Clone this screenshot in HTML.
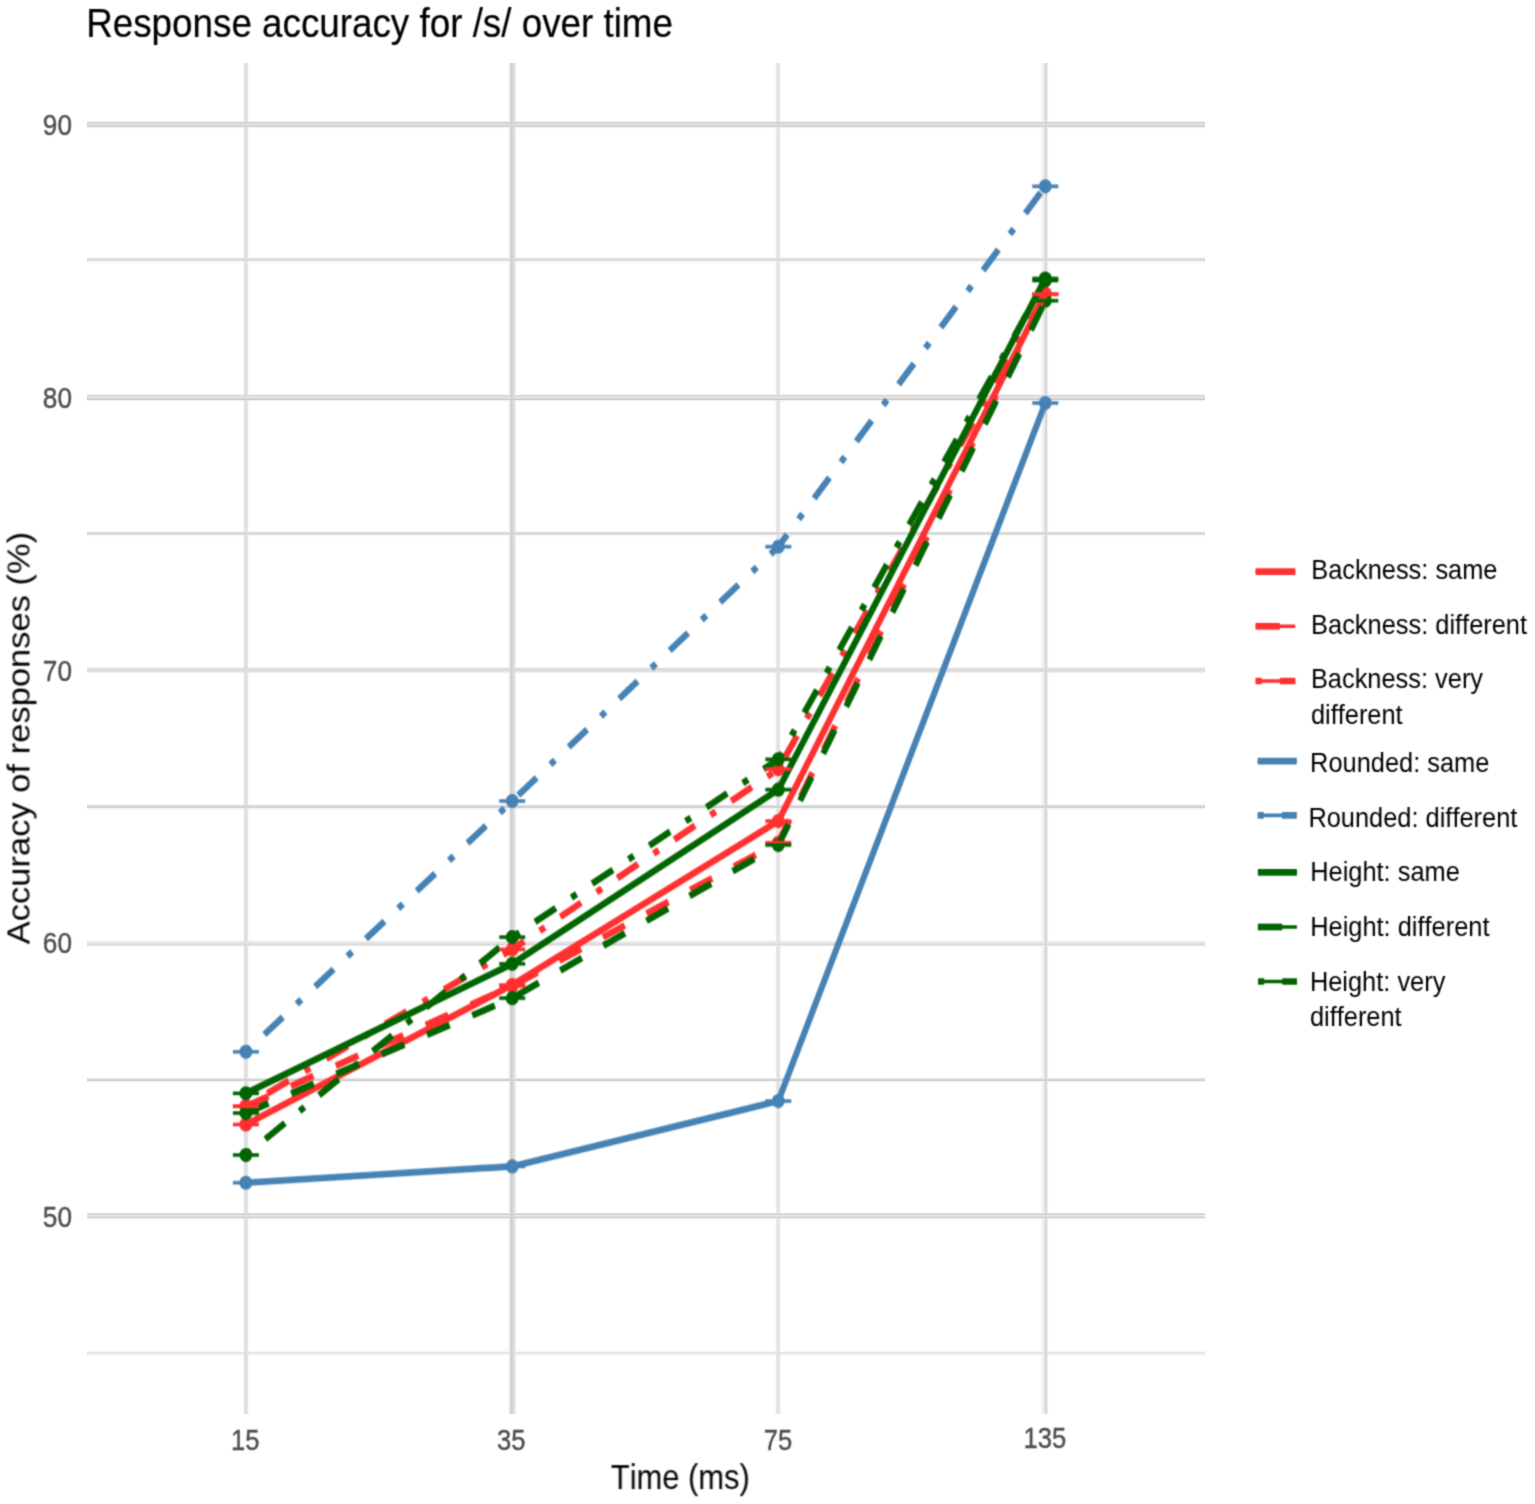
<!DOCTYPE html>
<html><head><meta charset="utf-8"><title>Response accuracy for /s/ over time</title>
<style>
html,body{margin:0;padding:0;background:#fff;}
svg{display:block;}
text{font-family:"Liberation Sans",Arial,Helvetica,sans-serif;font-kerning:none;}
</style></head>
<body>
<svg width="1535" height="1504" viewBox="0 0 1535 1367.273" preserveAspectRatio="none">
<defs><filter id="soft" filterUnits="userSpaceOnUse" x="0" y="0" width="1535" height="1367.273" color-interpolation-filters="sRGB"><feConvolveMatrix order="3" kernelMatrix="0.0400 0.1200 0.0400 0.1200 0.3600 0.1200 0.0400 0.1200 0.0400" edgeMode="duplicate"/></filter></defs>
<rect x="0" y="0" width="1535" height="1367.273" fill="#fff"/>
<g shape-rendering="crispEdges"><rect x="86.5" y="110.0000" width="1118.1" height="0.9091" fill="#f2f2f2"/><rect x="86.5" y="110.9091" width="1118.1" height="0.9091" fill="#d2d2d2"/><rect x="86.5" y="111.8182" width="1118.1" height="0.9091" fill="#d8d8d8"/><rect x="86.5" y="112.7273" width="1118.1" height="0.9091" fill="#e3e3e3"/><rect x="86.5" y="113.6364" width="1118.1" height="0.9091" fill="#d4d4d4"/><rect x="86.5" y="114.5455" width="1118.1" height="0.9091" fill="#d6d6d6"/><rect x="86.5" y="115.4545" width="1118.1" height="0.9091" fill="#efefef"/><rect x="86.5" y="116.3636" width="1118.1" height="0.9091" fill="#fbfbfb"/><rect x="86.5" y="233.6364" width="1118.1" height="0.9091" fill="#f6f6f6"/><rect x="86.5" y="234.5455" width="1118.1" height="0.9091" fill="#e6e6e6"/><rect x="86.5" y="235.4545" width="1118.1" height="0.9091" fill="#d6d6d6"/><rect x="86.5" y="236.3636" width="1118.1" height="0.9091" fill="#e0e0e0"/><rect x="86.5" y="237.2727" width="1118.1" height="0.9091" fill="#f5f5f5"/><rect x="86.5" y="238.1818" width="1118.1" height="0.9091" fill="#f8f8f8"/><rect x="86.5" y="239.0909" width="1118.1" height="0.9091" fill="#fcfcfc"/><rect x="86.5" y="358.1818" width="1118.1" height="0.9091" fill="#f2f2f2"/><rect x="86.5" y="359.0909" width="1118.1" height="0.9091" fill="#dcdcdc"/><rect x="86.5" y="360.0000" width="1118.1" height="0.9091" fill="#dadada"/><rect x="86.5" y="360.9091" width="1118.1" height="0.9091" fill="#e9e9e9"/><rect x="86.5" y="361.8182" width="1118.1" height="0.9091" fill="#d4d4d4"/><rect x="86.5" y="362.7273" width="1118.1" height="0.9091" fill="#cecece"/><rect x="86.5" y="363.6364" width="1118.1" height="0.9091" fill="#efefef"/><rect x="86.5" y="364.5455" width="1118.1" height="0.9091" fill="#fcfcfc"/><rect x="86.5" y="482.7273" width="1118.1" height="0.9091" fill="#f6f6f6"/><rect x="86.5" y="483.6364" width="1118.1" height="0.9091" fill="#e2e2e2"/><rect x="86.5" y="484.5455" width="1118.1" height="0.9091" fill="#d0d0d0"/><rect x="86.5" y="485.4545" width="1118.1" height="0.9091" fill="#e6e6e6"/><rect x="86.5" y="486.3636" width="1118.1" height="0.9091" fill="#f2f2f2"/><rect x="86.5" y="487.2727" width="1118.1" height="0.9091" fill="#fafafa"/><rect x="86.5" y="606.3636" width="1118.1" height="0.9091" fill="#f3f3f3"/><rect x="86.5" y="607.2727" width="1118.1" height="0.9091" fill="#e0e0e0"/><rect x="86.5" y="608.1818" width="1118.1" height="0.9091" fill="#dcdcdc"/><rect x="86.5" y="609.0909" width="1118.1" height="0.9091" fill="#dfdfdf"/><rect x="86.5" y="610.0000" width="1118.1" height="0.9091" fill="#e2e2e2"/><rect x="86.5" y="610.9091" width="1118.1" height="0.9091" fill="#efefef"/><rect x="86.5" y="611.8182" width="1118.1" height="0.9091" fill="#fbfbfb"/><rect x="86.5" y="730.9091" width="1118.1" height="0.9091" fill="#f6f6f6"/><rect x="86.5" y="731.8182" width="1118.1" height="0.9091" fill="#e2e2e2"/><rect x="86.5" y="732.7273" width="1118.1" height="0.9091" fill="#d2d2d2"/><rect x="86.5" y="733.6364" width="1118.1" height="0.9091" fill="#d5d5d5"/><rect x="86.5" y="734.5455" width="1118.1" height="0.9091" fill="#f0f0f0"/><rect x="86.5" y="735.4545" width="1118.1" height="0.9091" fill="#f8f8f8"/><rect x="86.5" y="854.5455" width="1118.1" height="0.9091" fill="#fbfbfb"/><rect x="86.5" y="855.4545" width="1118.1" height="0.9091" fill="#f0f0f0"/><rect x="86.5" y="856.3636" width="1118.1" height="0.9091" fill="#e5e5e5"/><rect x="86.5" y="857.2727" width="1118.1" height="0.9091" fill="#e1e1e1"/><rect x="86.5" y="858.1818" width="1118.1" height="0.9091" fill="#dadada"/><rect x="86.5" y="859.0909" width="1118.1" height="0.9091" fill="#eaeaea"/><rect x="86.5" y="860.0000" width="1118.1" height="0.9091" fill="#f8f8f8"/><rect x="86.5" y="979.0909" width="1118.1" height="0.9091" fill="#f8f8f8"/><rect x="86.5" y="980.0000" width="1118.1" height="0.9091" fill="#e9e9e9"/><rect x="86.5" y="980.9091" width="1118.1" height="0.9091" fill="#d5d5d5"/><rect x="86.5" y="981.8182" width="1118.1" height="0.9091" fill="#d3d3d3"/><rect x="86.5" y="982.7273" width="1118.1" height="0.9091" fill="#f2f2f2"/><rect x="86.5" y="983.6364" width="1118.1" height="0.9091" fill="#fcfcfc"/><rect x="86.5" y="1101.8182" width="1118.1" height="0.9091" fill="#fcfcfc"/><rect x="86.5" y="1102.7273" width="1118.1" height="0.9091" fill="#e2e2e2"/><rect x="86.5" y="1103.6364" width="1118.1" height="0.9091" fill="#cfcfcf"/><rect x="86.5" y="1104.5455" width="1118.1" height="0.9091" fill="#e8e8e8"/><rect x="86.5" y="1105.4545" width="1118.1" height="0.9091" fill="#dcdcdc"/><rect x="86.5" y="1106.3636" width="1118.1" height="0.9091" fill="#d4d4d4"/><rect x="86.5" y="1107.2727" width="1118.1" height="0.9091" fill="#eeeeee"/><rect x="86.5" y="1108.1818" width="1118.1" height="0.9091" fill="#fbfbfb"/><rect x="86.5" y="1227.2727" width="1118.1" height="0.9091" fill="#fcfcfc"/><rect x="86.5" y="1228.1818" width="1118.1" height="0.9091" fill="#f6f6f6"/><rect x="86.5" y="1229.0909" width="1118.1" height="0.9091" fill="#e6e6e6"/><rect x="86.5" y="1230.0000" width="1118.1" height="0.9091" fill="#e4e4e4"/><rect x="86.5" y="1230.9091" width="1118.1" height="0.9091" fill="#f5f5f5"/><rect x="86.5" y="1231.8182" width="1118.1" height="0.9091" fill="#fcfcfc"/><g style="mix-blend-mode:darken"><rect x="243" y="56.909" width="1" height="1228.182" fill="#f8f8f8"/><rect x="244" y="56.909" width="1" height="1228.182" fill="#e0e0e0"/><rect x="245" y="56.909" width="1" height="1228.182" fill="#e0e0e0"/><rect x="246" y="56.909" width="1" height="1228.182" fill="#e2e2e2"/><rect x="247" y="56.909" width="1" height="1228.182" fill="#e5e5e5"/><rect x="248" y="56.909" width="1" height="1228.182" fill="#f8f8f8"/><rect x="249" y="56.909" width="1" height="1228.182" fill="#fcfcfc"/><rect x="508" y="56.909" width="1" height="1228.182" fill="#f8f8f8"/><rect x="509" y="56.909" width="1" height="1228.182" fill="#f0f0f0"/><rect x="510" y="56.909" width="1" height="1228.182" fill="#d2d2d2"/><rect x="511" y="56.909" width="1" height="1228.182" fill="#d4d4d4"/><rect x="512" y="56.909" width="1" height="1228.182" fill="#dadada"/><rect x="513" y="56.909" width="1" height="1228.182" fill="#d5d5d5"/><rect x="514" y="56.909" width="1" height="1228.182" fill="#e6e6e6"/><rect x="515" y="56.909" width="1" height="1228.182" fill="#f0f0f0"/><rect x="516" y="56.909" width="1" height="1228.182" fill="#fcfcfc"/><rect x="775" y="56.909" width="1" height="1228.182" fill="#f8f8f8"/><rect x="776" y="56.909" width="1" height="1228.182" fill="#ededed"/><rect x="777" y="56.909" width="1" height="1228.182" fill="#dedede"/><rect x="778" y="56.909" width="1" height="1228.182" fill="#e6e6e6"/><rect x="779" y="56.909" width="1" height="1228.182" fill="#e8e8e8"/><rect x="780" y="56.909" width="1" height="1228.182" fill="#f6f6f6"/><rect x="781" y="56.909" width="1" height="1228.182" fill="#fcfcfc"/><rect x="1041" y="56.909" width="1" height="1228.182" fill="#f8f8f8"/><rect x="1042" y="56.909" width="1" height="1228.182" fill="#f4f4f4"/><rect x="1043" y="56.909" width="1" height="1228.182" fill="#ececec"/><rect x="1044" y="56.909" width="1" height="1228.182" fill="#e6e6e6"/><rect x="1045" y="56.909" width="1" height="1228.182" fill="#dadada"/><rect x="1046" y="56.909" width="1" height="1228.182" fill="#d7d7d7"/><rect x="1047" y="56.909" width="1" height="1228.182" fill="#f0f0f0"/><rect x="1048" y="56.909" width="1" height="1228.182" fill="#fcfcfc"/></g></g>
<g filter="url(#soft)">
<circle cx="245.9" cy="1022.273" r="6.45" fill="#ff3030"/>
<circle cx="512.2" cy="895.455" r="6.45" fill="#ff3030"/>
<circle cx="778.3" cy="746.364" r="6.45" fill="#ff3030"/>
<circle cx="1045.3" cy="267.273" r="6.45" fill="#ff3030"/>
<circle cx="245.9" cy="1005.818" r="6.45" fill="#ff3030"/>
<circle cx="512.2" cy="896.364" r="6.45" fill="#ff3030"/>
<circle cx="778.3" cy="766.091" r="6.45" fill="#ff3030"/>
<circle cx="1045.3" cy="267.273" r="6.45" fill="#ff3030"/>
<circle cx="245.9" cy="1005.455" r="6.45" fill="#ff3030"/>
<circle cx="512.2" cy="863.091" r="6.45" fill="#ff3030"/>
<circle cx="778.3" cy="699.182" r="6.45" fill="#ff3030"/>
<circle cx="1045.3" cy="267.273" r="6.45" fill="#ff3030"/>
<circle cx="245.9" cy="1075.182" r="6.45" fill="#4682b4"/>
<circle cx="512.2" cy="1060.364" r="6.45" fill="#4682b4"/>
<circle cx="778.3" cy="1000.909" r="6.45" fill="#4682b4"/>
<circle cx="1045.3" cy="366.364" r="6.45" fill="#4682b4"/>
<circle cx="245.9" cy="956.182" r="6.45" fill="#4682b4"/>
<circle cx="512.2" cy="728.182" r="6.45" fill="#4682b4"/>
<circle cx="778.3" cy="497.0" r="6.45" fill="#4682b4"/>
<circle cx="1045.3" cy="169.364" r="6.45" fill="#4682b4"/>
<circle cx="245.9" cy="993.909" r="6.45" fill="#006400"/>
<circle cx="512.2" cy="876.182" r="6.45" fill="#006400"/>
<circle cx="778.3" cy="717.818" r="6.45" fill="#006400"/>
<circle cx="1045.3" cy="253.182" r="6.45" fill="#006400"/>
<circle cx="245.9" cy="1011.818" r="6.45" fill="#006400"/>
<circle cx="512.2" cy="907.364" r="6.45" fill="#006400"/>
<circle cx="778.3" cy="768.182" r="6.45" fill="#006400"/>
<circle cx="1045.3" cy="273.364" r="6.45" fill="#006400"/>
<circle cx="245.9" cy="1050.0" r="6.45" fill="#006400"/>
<circle cx="512.2" cy="851.909" r="6.45" fill="#006400"/>
<circle cx="778.3" cy="690.273" r="6.45" fill="#006400"/>
<circle cx="1045.3" cy="255.0" r="6.45" fill="#006400"/>
<polyline points="245.9,1022.273 512.2,895.455 778.3,746.364 1045.3,267.273" fill="none" stroke="#ff3030" stroke-width="6.13" stroke-linejoin="round" stroke-linecap="butt"/>
<polyline points="245.9,1005.818 512.2,896.364 778.3,766.091 1045.3,267.273" fill="none" stroke="#ff3030" stroke-width="6.13" stroke-linejoin="round" stroke-linecap="butt" stroke-dasharray="24.312 24.312"/>
<polyline points="245.9,1005.455 512.2,863.091 778.3,699.182 1045.3,267.273" fill="none" stroke="#ff3030" stroke-width="6.13" stroke-linejoin="round" stroke-linecap="butt" stroke-dasharray="6.078 18.234 24.312 18.234"/>
<polyline points="245.9,1075.182 512.2,1060.364 778.3,1000.909 1045.3,366.364" fill="none" stroke="#4682b4" stroke-width="6.13" stroke-linejoin="round" stroke-linecap="butt"/>
<polyline points="245.9,956.182 512.2,728.182 778.3,497.0 1045.3,169.364" fill="none" stroke="#4682b4" stroke-width="6.13" stroke-linejoin="round" stroke-linecap="butt" stroke-dasharray="6.078 18.234 24.312 18.234"/>
<polyline points="245.9,993.909 512.2,876.182 778.3,717.818 1045.3,253.182" fill="none" stroke="#006400" stroke-width="6.13" stroke-linejoin="round" stroke-linecap="butt"/>
<polyline points="245.9,1011.818 512.2,907.364 778.3,768.182 1045.3,273.364" fill="none" stroke="#006400" stroke-width="6.13" stroke-linejoin="round" stroke-linecap="butt" stroke-dasharray="24.312 24.312"/>
<polyline points="245.9,1050.0 512.2,851.909 778.3,690.273 1045.3,255.0" fill="none" stroke="#006400" stroke-width="6.13" stroke-linejoin="round" stroke-linecap="butt" stroke-dasharray="6.078 18.234 24.312 18.234"/>
<line x1="232.9" x2="258.9" y1="1022.273" y2="1022.273" stroke="#ff3030" stroke-width="3.3"/>
<line x1="499.20000000000005" x2="525.2" y1="895.455" y2="895.455" stroke="#ff3030" stroke-width="3.3"/>
<line x1="765.3" x2="791.3" y1="746.364" y2="746.364" stroke="#ff3030" stroke-width="3.3"/>
<line x1="1032.3" x2="1058.3" y1="267.273" y2="267.273" stroke="#ff3030" stroke-width="3.3"/>
<line x1="232.9" x2="258.9" y1="1005.818" y2="1005.818" stroke="#ff3030" stroke-width="3.3"/>
<line x1="499.20000000000005" x2="525.2" y1="896.364" y2="896.364" stroke="#ff3030" stroke-width="3.3"/>
<line x1="765.3" x2="791.3" y1="766.091" y2="766.091" stroke="#ff3030" stroke-width="3.3"/>
<line x1="1032.3" x2="1058.3" y1="267.273" y2="267.273" stroke="#ff3030" stroke-width="3.3"/>
<line x1="232.9" x2="258.9" y1="1005.455" y2="1005.455" stroke="#ff3030" stroke-width="3.3"/>
<line x1="499.20000000000005" x2="525.2" y1="863.091" y2="863.091" stroke="#ff3030" stroke-width="3.3"/>
<line x1="765.3" x2="791.3" y1="699.182" y2="699.182" stroke="#ff3030" stroke-width="3.3"/>
<line x1="1032.3" x2="1058.3" y1="267.273" y2="267.273" stroke="#ff3030" stroke-width="3.3"/>
<line x1="232.9" x2="258.9" y1="1075.182" y2="1075.182" stroke="#4682b4" stroke-width="3.3"/>
<line x1="499.20000000000005" x2="525.2" y1="1060.364" y2="1060.364" stroke="#4682b4" stroke-width="3.3"/>
<line x1="765.3" x2="791.3" y1="1000.909" y2="1000.909" stroke="#4682b4" stroke-width="3.3"/>
<line x1="1032.3" x2="1058.3" y1="366.364" y2="366.364" stroke="#4682b4" stroke-width="3.3"/>
<line x1="232.9" x2="258.9" y1="956.182" y2="956.182" stroke="#4682b4" stroke-width="3.3"/>
<line x1="499.20000000000005" x2="525.2" y1="728.182" y2="728.182" stroke="#4682b4" stroke-width="3.3"/>
<line x1="765.3" x2="791.3" y1="497.0" y2="497.0" stroke="#4682b4" stroke-width="3.3"/>
<line x1="1032.3" x2="1058.3" y1="169.364" y2="169.364" stroke="#4682b4" stroke-width="3.3"/>
<line x1="232.9" x2="258.9" y1="993.909" y2="993.909" stroke="#006400" stroke-width="3.3"/>
<line x1="499.20000000000005" x2="525.2" y1="876.182" y2="876.182" stroke="#006400" stroke-width="3.3"/>
<line x1="765.3" x2="791.3" y1="717.818" y2="717.818" stroke="#006400" stroke-width="3.3"/>
<line x1="1032.3" x2="1058.3" y1="253.182" y2="253.182" stroke="#006400" stroke-width="3.3"/>
<line x1="232.9" x2="258.9" y1="1011.818" y2="1011.818" stroke="#006400" stroke-width="3.3"/>
<line x1="499.20000000000005" x2="525.2" y1="907.364" y2="907.364" stroke="#006400" stroke-width="3.3"/>
<line x1="765.3" x2="791.3" y1="768.182" y2="768.182" stroke="#006400" stroke-width="3.3"/>
<line x1="1032.3" x2="1058.3" y1="273.364" y2="273.364" stroke="#006400" stroke-width="3.3"/>
<line x1="232.9" x2="258.9" y1="1050.0" y2="1050.0" stroke="#006400" stroke-width="3.3"/>
<line x1="499.20000000000005" x2="525.2" y1="851.909" y2="851.909" stroke="#006400" stroke-width="3.3"/>
<line x1="765.3" x2="791.3" y1="690.273" y2="690.273" stroke="#006400" stroke-width="3.3"/>
<line x1="1032.3" x2="1058.3" y1="255.0" y2="255.0" stroke="#006400" stroke-width="3.3"/>
<text transform="translate(86.2,33.364) scale(1,1.02)" font-size="36.8" fill="#000" stroke="#000" stroke-width="0.2" text-anchor="start">Response accuracy for /s/ over time</text>
<text transform="translate(72.0,123.0) scale(1,1.04)" font-size="26.2" fill="#4d4d4d" stroke="#4d4d4d" stroke-width="0.35" text-anchor="end">90</text>
<text transform="translate(72.0,371.182) scale(1,1.04)" font-size="26.2" fill="#4d4d4d" stroke="#4d4d4d" stroke-width="0.35" text-anchor="end">80</text>
<text transform="translate(72.0,618.818) scale(1,1.04)" font-size="26.2" fill="#4d4d4d" stroke="#4d4d4d" stroke-width="0.35" text-anchor="end">70</text>
<text transform="translate(72.0,866.818) scale(1,1.04)" font-size="26.2" fill="#4d4d4d" stroke="#4d4d4d" stroke-width="0.35" text-anchor="end">60</text>
<text transform="translate(72.0,1115.545) scale(1,1.04)" font-size="26.2" fill="#4d4d4d" stroke="#4d4d4d" stroke-width="0.35" text-anchor="end">50</text>
<text transform="translate(245.3,1318.091) scale(1,1.04)" font-size="25.6" fill="#4d4d4d" stroke="#4d4d4d" stroke-width="0.35" text-anchor="middle">15</text>
<text transform="translate(511.20000000000005,1318.455) scale(1,1.04)" font-size="25.6" fill="#4d4d4d" stroke="#4d4d4d" stroke-width="0.35" text-anchor="middle">35</text>
<text transform="translate(777.9,1318.182) scale(1,1.04)" font-size="25.6" fill="#4d4d4d" stroke="#4d4d4d" stroke-width="0.35" text-anchor="middle">75</text>
<text transform="translate(1044.8999999999999,1316.818) scale(1,1.04)" font-size="25.6" fill="#4d4d4d" stroke="#4d4d4d" stroke-width="0.35" text-anchor="middle">135</text>
<text transform="translate(680.3,1353.727) scale(1,1.0299029126213592)" font-size="30.9" fill="#000" text-anchor="middle">Time (ms)</text>
<text transform="translate(29.8,670.909) rotate(-90) scale(1,1.01)" font-size="31.4" text-anchor="middle">Accuracy of responses (%)</text>
<line x1="1255.6" x2="1295.3" y1="519.727" y2="519.727" stroke="#ff3030" stroke-width="3.3"/>
<line x1="1255.6" x2="1295.3" y1="519.727" y2="519.727" stroke="#ff3030" stroke-width="6.13"/>
<text transform="translate(1311.2,526.636) scale(1,1.02)" font-size="25.4" fill="#000" text-anchor="start">Backness: same</text>
<line x1="1255.6" x2="1295.3" y1="569.364" y2="569.364" stroke="#ff3030" stroke-width="3.3"/>
<line x1="1255.6" x2="1295.3" y1="569.364" y2="569.364" stroke="#ff3030" stroke-width="6.13" stroke-dasharray="24.312 24.312"/>
<text transform="translate(1311.1,576.182) scale(1,1.02)" font-size="25.4" fill="#000" text-anchor="start">Backness: different</text>
<line x1="1255.6" x2="1295.3" y1="619.091" y2="619.091" stroke="#ff3030" stroke-width="3.3"/>
<line x1="1255.6" x2="1295.3" y1="619.091" y2="619.091" stroke="#ff3030" stroke-width="6.13" stroke-dasharray="6.078 18.234 24.312 18.234"/>
<text transform="translate(1310.9,625.818) scale(1,1.02)" font-size="25.4" fill="#000" text-anchor="start">Backness: very</text>
<text transform="translate(1310.9,658.0) scale(1,1.02)" font-size="25.4" fill="#000" text-anchor="start">different</text>
<line x1="1257.7" x2="1296.7" y1="692.0" y2="692.0" stroke="#4682b4" stroke-width="3.3"/>
<line x1="1257.7" x2="1296.7" y1="692.0" y2="692.0" stroke="#4682b4" stroke-width="6.13"/>
<text transform="translate(1310.1,702.182) scale(1,1.02)" font-size="25.4" fill="#000" text-anchor="start">Rounded: same</text>
<line x1="1257.7" x2="1296.7" y1="741.273" y2="741.273" stroke="#4682b4" stroke-width="3.3"/>
<line x1="1257.7" x2="1296.7" y1="741.273" y2="741.273" stroke="#4682b4" stroke-width="6.13" stroke-dasharray="6.078 18.234 24.312 18.234"/>
<text transform="translate(1308.4,752.0) scale(1,1.02)" font-size="25.4" fill="#000" text-anchor="start">Rounded: different</text>
<line x1="1257.9" x2="1296.9" y1="793.091" y2="793.091" stroke="#006400" stroke-width="3.3"/>
<line x1="1257.9" x2="1296.9" y1="793.091" y2="793.091" stroke="#006400" stroke-width="6.13"/>
<text transform="translate(1310.2,801.182) scale(1,1.02)" font-size="25.4" fill="#000" text-anchor="start">Height: same</text>
<line x1="1257.9" x2="1296.9" y1="842.727" y2="842.727" stroke="#006400" stroke-width="3.3"/>
<line x1="1257.9" x2="1296.9" y1="842.727" y2="842.727" stroke="#006400" stroke-width="6.13" stroke-dasharray="24.312 24.312"/>
<text transform="translate(1310.2,850.909) scale(1,1.02)" font-size="25.4" fill="#000" text-anchor="start">Height: different</text>
<line x1="1258.0" x2="1297.0" y1="892.273" y2="892.273" stroke="#006400" stroke-width="3.3"/>
<line x1="1258.0" x2="1297.0" y1="892.273" y2="892.273" stroke="#006400" stroke-width="6.13" stroke-dasharray="6.078 18.234 24.312 18.234"/>
<text transform="translate(1309.9,900.545) scale(1,1.02)" font-size="25.4" fill="#000" text-anchor="start">Height: very</text>
<text transform="translate(1309.9,932.727) scale(1,1.02)" font-size="25.4" fill="#000" text-anchor="start">different</text>
</g>
</svg>
</body></html>
